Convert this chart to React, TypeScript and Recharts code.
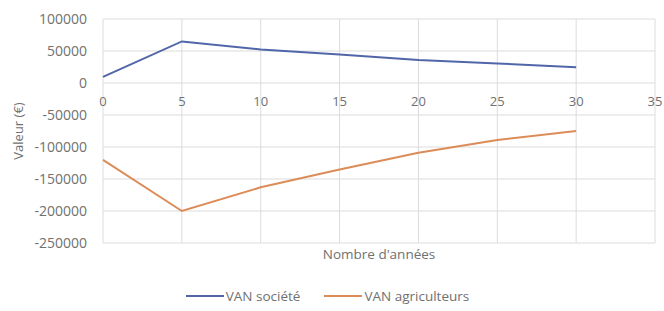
import { LineChart, Line, XAxis, YAxis, CartesianGrid, Legend } from 'recharts';

const YEARS = [0, 5, 10, 15, 20, 25, 30];
const VAN_SOCIETE = [9500, 65000, 52500, 44500, 36000, 30500, 24500];
const VAN_AGRICULTEURS = [-120000, -200000, -163000, -135000, -109000, -89000, -75000];
const X_TICKS = [0, 5, 10, 15, 20, 25, 30, 35];
const Y_TICKS = [100000, 50000, 0, -50000, -100000, -150000, -200000, -250000];

const data = YEARS.map((y, i) => ({ annee: y, societe: VAN_SOCIETE[i], agri: VAN_AGRICULTEURS[i] }));

const W = 664;
const H = 311;
const M = { top: 19, right: 9, left: 0, bottom: 0 };
const PLOT_BOTTOM = 243;
const FONT = '"Open Sans", "Liberation Sans", sans-serif';
const TXT = '#707070';

const SERIES = [
  { key: 'societe', name: 'VAN société', color: '#5166a8' },
  { key: 'agri', name: 'VAN agriculteurs', color: '#dc8c58' },
];

// x tick labels sit on the zero line, like Excel does
const ZERO_Y = M.top + (PLOT_BOTTOM - M.top) * (100000 / 350000);

function XTick(props: any) {
  const { x, payload } = props;
  return (
    <text x={x} y={ZERO_Y + 23} textAnchor="middle" fill={TXT} fontSize={13} fontFamily={FONT}>
      {payload.value}
    </text>
  );
}

function LegendBox() {
  return (
    <div style={{ height: 24, display: 'flex', justifyContent: 'center', alignItems: 'center', gap: 24, fontSize: 13.5, fontFamily: FONT, color: TXT }}>
      {SERIES.map((s) => (
        <div key={s.key} style={{ display: 'flex', alignItems: 'center' }}>
          <div style={{ width: 38, height: 2, background: s.color, marginRight: 2 }} />
          <span>{s.name}</span>
        </div>
      ))}
    </div>
  );
}

export default function App() {
  return (
    <div style={{ position: 'absolute', left: 0, top: 0, background: '#fff' }}>
      <LineChart width={W} height={H} data={data} margin={M}>
        <CartesianGrid stroke="#dcdcdc" strokeWidth={1} />
        <XAxis
          dataKey="annee"
          type="number"
          domain={[0, 35]}
          ticks={X_TICKS}
          tick={<XTick />}
          axisLine={false}
          tickLine={false}
          height={44}
          label={{ value: "Nombre d'années", position: 'insideTop', offset: 6, fill: TXT, fontSize: 13.5, fontFamily: FONT }}
        />
        <YAxis
          type="number"
          domain={[-250000, 100000]}
          ticks={Y_TICKS}
          axisLine={false}
          tickLine={false}
          tickMargin={10}
          width={103}
          tick={{ fill: TXT, fontSize: 14, fontFamily: FONT }}
          label={{ value: 'Valeur (€)', angle: -90, position: 'insideLeft', offset: 18, fill: TXT, fontSize: 13, fontFamily: FONT, style: { textAnchor: 'middle' } }}
        />
        <Legend verticalAlign="bottom" content={<LegendBox />} wrapperStyle={{ bottom: 3 }} />
        {SERIES.map((s) => (
          <Line key={s.key} dataKey={s.key} name={s.name} stroke={s.color} strokeWidth={2} dot={false} isAnimationActive={false} />
        ))}
      </LineChart>
    </div>
  );
}
